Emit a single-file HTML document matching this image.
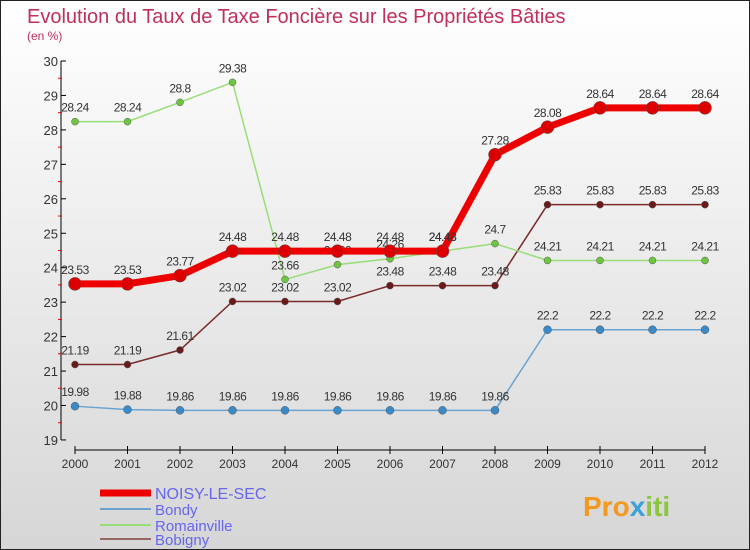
<!DOCTYPE html>
<html><head><meta charset="utf-8"><style>
body{margin:0;width:750px;height:550px;overflow:hidden}
svg{display:block;font-family:"Liberation Sans",sans-serif}
</style></head><body>
<svg id="c" width="750" height="550">
<defs><linearGradient id="bg" x1="0" y1="0" x2="0" y2="1"><stop offset="0" stop-color="#ffffff"/><stop offset="1" stop-color="#d6d6d6"/></linearGradient></defs>
<rect x="0.5" y="0.5" width="749" height="549" fill="url(#bg)" stroke="#222"/>
<text x="27" y="23" font-size="20" fill="#c0305a">Evolution du Taux de Taxe Foncière sur les Propriétés Bâties</text>
<text x="27" y="40" font-size="12" fill="#c0305a">(en %)</text>
<g id="axes"></g><g id="series"></g><g id="legend"></g>
<text x="583" y="516" font-size="28" font-weight="bold" fill="#f39a1e">Pro<tspan fill="#3aa0d8">x</tspan><tspan fill="#8cc63f">iti</tspan></text>
</svg>
<script>
const years=[2000,2001,2002,2003,2004,2005,2006,2007,2008,2009,2010,2011,2012];
const yTicks=[19,20,21,22,23,24,25,26,27,28,29,30];
const noisy=[23.53,23.53,23.77,24.48,24.48,24.48,24.48,24.48,27.28,28.08,28.64,28.64,28.64];
const bondy=[19.98,19.88,19.86,19.86,19.86,19.86,19.86,19.86,19.86,22.2,22.2,22.2,22.2];
const romainville=[28.24,28.24,28.8,29.38,23.66,24.09,24.26,24.48,24.7,24.21,24.21,24.21,24.21];
const bobigny=[21.19,21.19,21.61,23.02,23.02,23.02,23.48,23.48,23.48,25.83,25.83,25.83,25.83];
const names=["NOISY-LE-SEC","Bondy","Romainville","Bobigny"];
const NS="http://www.w3.org/2000/svg";
const X=i=>75+i*52.5, Y=v=>61+(30-v)*34.45;
function mk(p,t,a){const e=document.createElementNS(NS,t);for(const k in a)e.setAttribute(k,a[k]);p.appendChild(e);return e;}
const ax=document.getElementById('axes');
mk(ax,'line',{x1:61,y1:61,x2:61,y2:440,stroke:'#000'});
mk(ax,'line',{x1:75,y1:450,x2:705,y2:450,stroke:'#000'});
yTicks.forEach(v=>{mk(ax,'line',{x1:61,y1:Y(v),x2:66,y2:Y(v),stroke:'#000'});
 if(v<30)mk(ax,'line',{x1:58,y1:Y(v+0.5),x2:62,y2:Y(v+0.5),stroke:'#e00'});
 const t=mk(ax,'text',{x:58,y:Y(v)+5,'font-size':13,'text-anchor':'end',fill:'#333'});t.textContent=v;
 
 });
years.forEach((y,i)=>{mk(ax,'line',{x1:X(i),y1:446,x2:X(i),y2:454,stroke:'#000'});
 const t=mk(ax,'text',{x:X(i),y:468,'font-size':12,'text-anchor':'middle',fill:'#333'});t.textContent=y;
 
 });
const sg=document.getElementById('series');
const specs=[[bobigny,'#7a2a2a','#6a1a1a',1.5,3.5,'bobigny'],[bondy,'#6aa3d0','#3a8ac8',1.5,4,'bondy'],[romainville,'#99dd77','#6cc63f',1.5,3.5,'romainville'],[noisy,'#ee0000','#dd0000',7,6.5,'noisy-le-sec']];
specs.forEach(([d,c,mc,w,r,n])=>{
 const l=mk(sg,'polyline',{points:d.map((v,i)=>X(i)+','+Y(v)).join(' '),fill:'none',stroke:c,'stroke-width':w});
 
 
 d.forEach((v,i)=>{const p=mk(sg,'circle',{cx:X(i),cy:Y(v),r:r,fill:mc,stroke:'#555','stroke-width':0.5});
  
  
  const t=mk(sg,'text',{x:X(i),y:Y(v)-10,'font-size':12,'text-anchor':'middle',fill:'#333','letter-spacing':'-0.5'});t.textContent=v;
  
  });
});
const lg=document.getElementById('legend');
const lc=['#ee0000','#6aa3d0','#99dd77','#996666'],lw=[7,2,2,2],ly=[493,509,525,539];
names.forEach((n,i)=>{mk(lg,'line',{x1:100,y1:ly[i],x2:151,y2:ly[i],stroke:lc[i],'stroke-width':lw[i]});
 const t=mk(lg,'text',{x:155,y:ly[i]+6,'font-size':i?15:16,fill:'#6666ee'});t.textContent=n;
 
 });
</script>
</body></html>
